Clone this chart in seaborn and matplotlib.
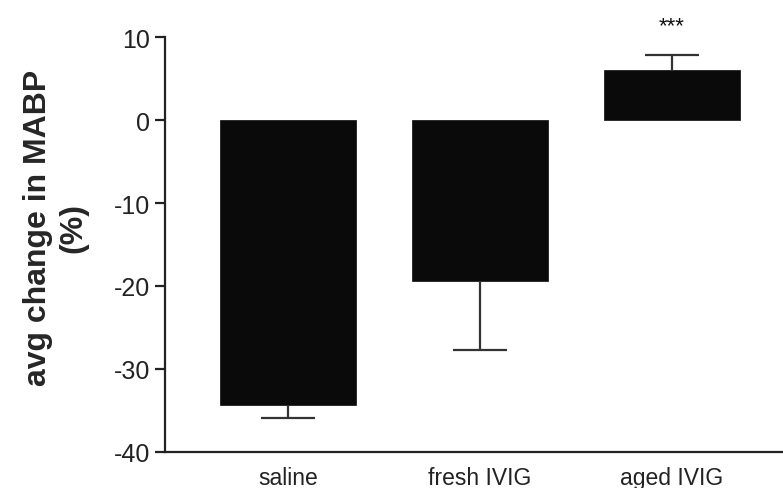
import matplotlib
matplotlib.use("Agg")
import matplotlib.pyplot as plt
import seaborn as sns
import pandas as pd

groups = ["saline", "fresh IVIG", "aged IVIG"]
mean_change = [-34.3, -19.4, 6.0]
sem = [1.6, 8.3, 1.8]
significance = ["", "", "***"]

sns.set_theme(style="ticks")
plt.rcParams["font.family"] = ["Liberation Sans", "DejaVu Sans"]
plt.rcParams["axes.unicode_minus"] = False

df = pd.DataFrame({"group": groups, "change": mean_change})

fig = plt.figure(figsize=(7.83, 4.89), dpi=100)
ax = fig.add_axes([0.211, 0.074, 0.789, 0.848])

sns.barplot(data=df, x="group", y="change", color="#0a0a0a", saturation=1,
            width=0.71, errorbar=None, ax=ax, edgecolor="#0a0a0a", linewidth=0.5)

# one-sided error bars pointing away from zero, cap only at the outer end
err_color = "#333333"
cap_half = 0.14
for i, (m, e) in enumerate(zip(mean_change, sem)):
    end = m - e if m < 0 else m + e
    ax.vlines(i, m, end, color=err_color, linewidth=1.6, zorder=3)
    ax.hlines(end, i - cap_half, i + cap_half, color=err_color, linewidth=1.6, zorder=3)
    if significance[i]:
        ax.text(i, end + 3.6, significance[i], ha="center", va="center",
                fontsize=16, color="#111111")

ax.set_ylim(-40, 10)
ax.set_xlim(-0.64, 2.58)
ax.set_yticks([10, 0, -10, -20, -30, -40])
ax.set_ylabel("avg change in MABP\n(%)", fontsize=23, fontweight="bold",
              linespacing=1.2)
ax.yaxis.set_label_coords(-0.125, 0.542)
ax.set_xlabel("")

sns.despine(ax=ax)
for s in ("left", "bottom"):
    ax.spines[s].set_linewidth(1.6)
    ax.spines[s].set_color("#222222")
ax.tick_params(axis="y", length=7, width=1.6, color="#222222",
               labelsize=18, labelcolor="#222222", pad=4)
ax.tick_params(axis="x", length=0, labelsize=16.5, labelcolor="#222222", pad=10)

fig.savefig("out.png", dpi=100, facecolor="white")
